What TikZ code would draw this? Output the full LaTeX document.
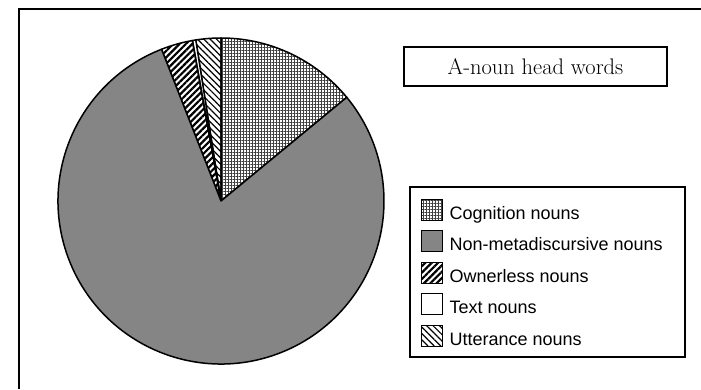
\documentclass[tikz,border=0pt]{standalone}
\usepackage{fontspec}
\newfontfamily\legendfont{Liberation Sans}
\usepackage{xcolor}
\usetikzlibrary{positioning}
\usetikzlibrary{patterns.meta}

\tikzset{
	slice/.style={draw, line width=1.5pt, line join=round},
	cogn/.style={pattern={Hatch[distance=3pt,line width=0.7pt]}, pattern color=black!75},
	nonmeta/.style={fill=black!48},
	owner/.style={pattern={Lines[angle=45,distance=4.5pt,line width=2.2pt]}},
	textn/.style={fill=white},
	utter/.style={pattern={Lines[angle=-45,distance=4.5pt,line width=1.2pt]}},
	swatch/.style={draw, line width=1pt, minimum width=21pt, minimum height=21pt, inner sep=0pt},
	legtext/.style={inner sep=0pt, font=\legendfont\fontsize{18}{20}\selectfont},
	box/.style={draw, line width=1.2pt, inner sep=0pt}
}

\begin{document}
\begin{tikzpicture}[x=1pt, y=1pt]
		\useasboundingbox (0,0) rectangle (701,389);
		\def\pieR{163}
		% frame
		\draw[line width=2pt] (19,0) -- (19,379.5) -- (701,379.5);
		% pie
		\coordinate (ctr) at (221,188);
		\foreach \from/\to/\sty in {39.5/90/cogn, 90/98.9/utter, 98.9/100.1/textn, 100.1/111.4/owner, 111.4/399.5/nonmeta} {
			\draw[slice,\sty] (ctr) -- ++(\from:\pieR) arc[start angle=\from, end angle=\to, radius=\pieR] -- cycle;
		}
		% title and legend
		\node[box, minimum width=263pt, minimum height=39pt] (title) at (535.5,322.5) {\fontsize{22.5}{26}\selectfont A-noun head words};
		\node[box, minimum width=275pt, minimum height=170pt] (legend) at (547.5,117) {};
		\foreach \sty/\name [count=\i] in {cogn/Cognition nouns, nonmeta/Non-metadiscursive nouns, owner/Ownerless nouns, textn/Text nouns, utter/Utterance nouns} {
			\node[swatch,\sty] (sw\i) at (432.3,211-31.5*\i) {};
			\node[legtext, anchor=base west] (lb\i) at ([xshift=6pt, yshift=1.5pt]sw\i.south east) {\name};
		}
	\end{tikzpicture}
\end{document}
